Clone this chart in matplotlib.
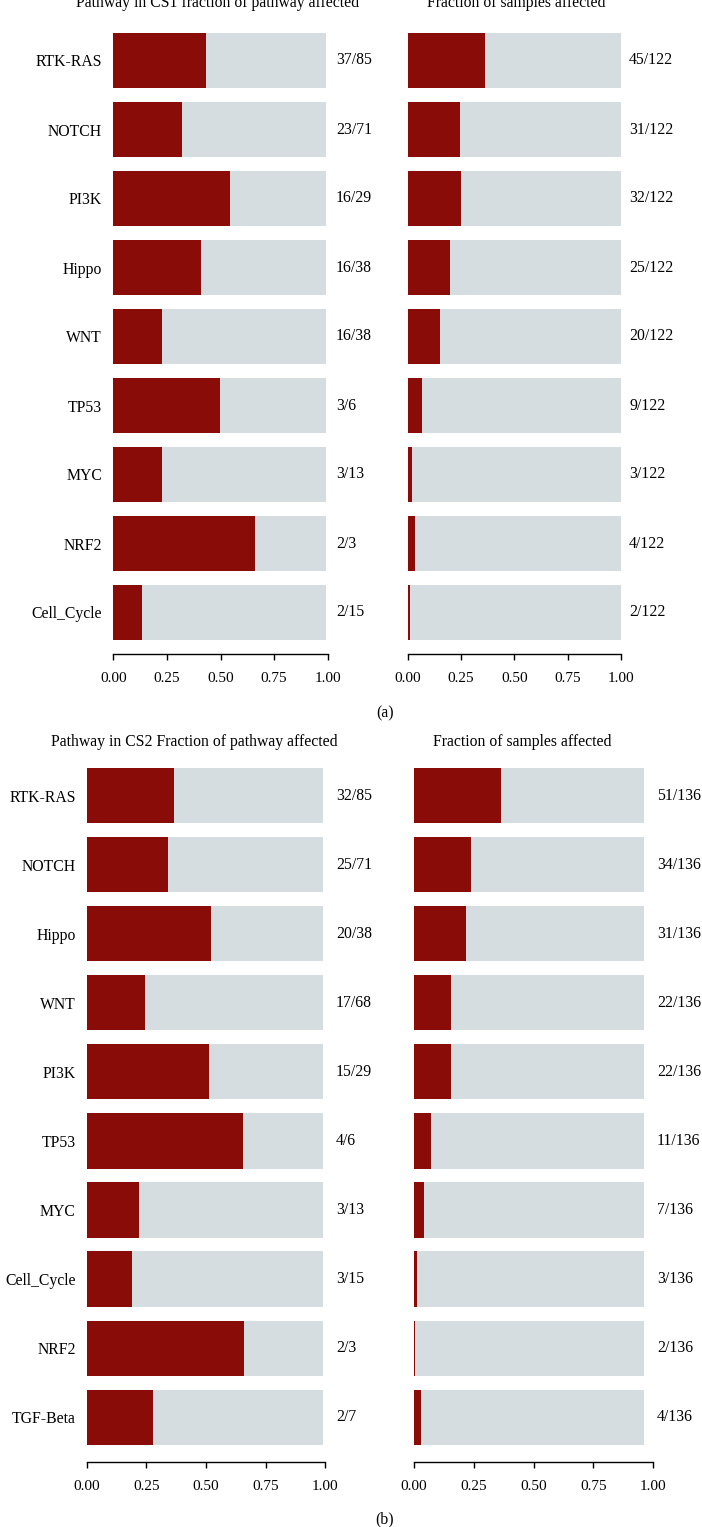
import matplotlib
matplotlib.use("Agg")
import matplotlib.pyplot as plt
import matplotlib.transforms as mtransforms

plt.rcParams['font.family'] = ['Liberation Serif', 'DejaVu Serif']

# ---------------- data ----------------
a_pathways = ["RTK-RAS", "NOTCH", "PI3K", "Hippo", "WNT", "TP53", "MYC", "NRF2", "Cell_Cycle"]
a_path_frac = [0.430, 0.322, 0.544, 0.410, 0.228, 0.498, 0.228, 0.662, 0.134]
a_path_bg = [0.99] * 9
a_path_labels = ["37/85", "23/71", "16/29", "16/38", "16/38", "3/6", "3/13", "2/3", "2/15"]
a_samp_frac = [0.363, 0.246, 0.250, 0.199, 0.152, 0.068, 0.021, 0.035, 0.012]
a_samp_bg = [1.0] * 9
a_samp_labels = ["45/122", "31/122", "32/122", "25/122", "20/122", "9/122", "3/122", "4/122", "2/122"]

b_pathways = ["RTK-RAS", "NOTCH", "Hippo", "WNT", "PI3K", "TP53", "MYC", "Cell_Cycle", "NRF2", "TGF-Beta"]
b_path_frac = [0.366, 0.341, 0.521, 0.244, 0.513, 0.655, 0.219, 0.190, 0.659, 0.277]
b_path_bg = [0.99] * 10
b_path_labels = ["32/85", "25/71", "20/38", "17/68", "15/29", "4/6", "3/13", "3/15", "2/3", "2/7"]
b_samp_frac = [0.363, 0.238, 0.218, 0.155, 0.155, 0.071, 0.042, 0.013, 0.004, 0.028]
b_samp_bg = [0.964] * 10
b_samp_labels = ["51/136", "34/136", "31/136", "22/136", "22/136", "11/136", "7/136", "3/136", "2/136", "4/136"]

xticks = [0.0, 0.25, 0.5, 0.75, 1.0]
xticklabels = ["0.00", "0.25", "0.50", "0.75", "1.00"]

RED = "#8A0C08"
GRAY = "#D5DDE0"
W, H = 702, 1527
FS = 11.3
FS_TICK = 11

fig = plt.figure(figsize=(W / 100, H / 100), dpi=100)


def make_panel(x0, x1, top_center, bottom, n, spacing, cats, frac, bg, counts,
               count_x, show_cats, title, title_x, title_y):
    top = top_center - spacing / 2
    ax = fig.add_axes([x0 / W, 1 - bottom / H, (x1 - x0) / W, (bottom - top) / H])
    ypos = list(range(n))
    ax.barh(ypos, bg, height=0.8, color=GRAY, edgecolor='none')
    ax.barh(ypos, frac, height=0.8, color=RED, edgecolor='none')
    ax.set_xlim(0, 1)
    ax.set_ylim((bottom - top_center) / spacing, -0.5)
    for s in ['top', 'right', 'left']:
        ax.spines[s].set_visible(False)
    ax.spines['bottom'].set_linewidth(1.0)
    ax.set_xticks(xticks)
    ax.set_xticklabels(xticklabels, fontsize=FS_TICK)
    ax.tick_params(axis='x', length=4, width=1.0, pad=9)
    ax.set_yticks(ypos)
    if show_cats:
        ax.set_yticklabels(cats, fontsize=FS)
    else:
        ax.set_yticklabels([])
    ax.tick_params(axis='y', length=0, pad=8)
    ax.patch.set_alpha(0)
    trans = mtransforms.blended_transform_factory(ax.transAxes, ax.transData)
    cx = (count_x - x0) / (x1 - x0)
    for i, lab in enumerate(counts):
        ax.text(cx, i, lab, transform=trans, ha='left', va='center', fontsize=FS, clip_on=False)
    fig.text(title_x / W, 1 - title_y / H, title, ha='center', va='center', fontsize=FS)
    return ax


spacing_a = 69.0
spacing_b = 69.08

make_panel(113.3, 327.8, 60.5, 654, 9, spacing_a, a_pathways, a_path_frac, a_path_bg,
           a_path_labels, 336, True, "Pathway in CS1 fraction of pathway affected", 218, 3)
make_panel(407.5, 621.0, 60.5, 654, 9, spacing_a, a_pathways, a_samp_frac, a_samp_bg,
           a_samp_labels, 629, False, "Fraction of samples affected", 516, 3)

make_panel(86.7, 325.3, 795.5, 1462.3, 10, spacing_b, b_pathways, b_path_frac, b_path_bg,
           b_path_labels, 336, True, "Pathway in CS2 Fraction of pathway affected", 194, 742)
make_panel(414.0, 653.0, 795.5, 1462.3, 10, spacing_b, b_pathways, b_samp_frac, b_samp_bg,
           b_samp_labels, 657, False, "Fraction of samples affected", 522, 742)

fig.text(385 / W, 1 - 713 / H, "(a)", ha='center', va='center', fontsize=FS)
fig.text(385 / W, 1 - 1519 / H, "(b)", ha='center', va='center', fontsize=FS)

fig.savefig("out.png", dpi=100)
